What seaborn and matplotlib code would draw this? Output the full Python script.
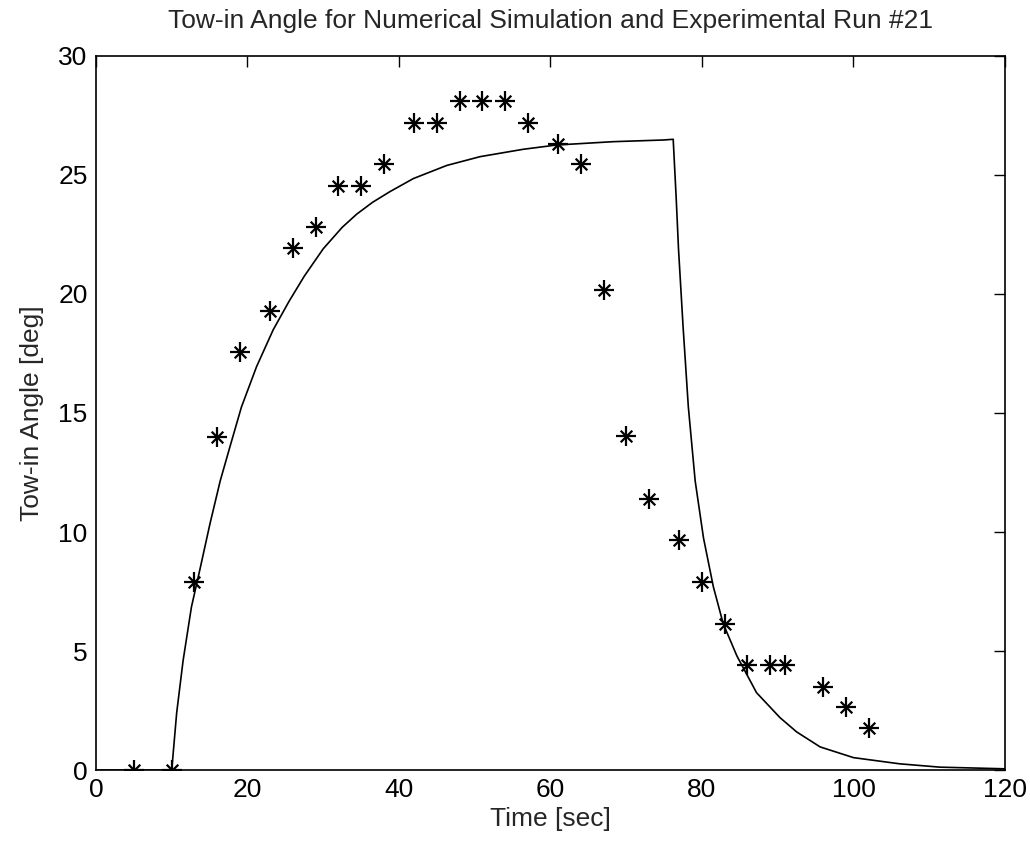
import numpy as np
import pandas as pd
import matplotlib
matplotlib.use("Agg")
import matplotlib.pyplot as plt
import seaborn as sns

# --- Experimental run #21 (asterisks) ---
exp_time = [5, 10, 13, 16, 19, 23, 26, 29, 32, 35, 38, 42, 45, 48, 51, 54, 57,
            61, 64, 67, 70, 73, 77, 80, 83, 86, 89, 91, 96, 99, 102]
exp_angle = [0.0, 0.0, 7.9, 14.0, 17.55, 19.3, 21.95, 22.8, 24.55, 24.55, 25.45,
             27.2, 27.2, 28.1, 28.1, 28.1, 27.2, 26.3, 25.45, 20.15, 14.05,
             11.4, 9.65, 7.9, 6.15, 4.4, 4.4, 4.4, 3.5, 2.65, 1.75]

# --- Numerical simulation (solid line) ---
sim_time = [0.0, 10.0, 10.65, 11.5, 12.6, 13.7, 15.05, 16.4, 17.7, 19.2, 21.2,
            23.4, 25.5, 27.5, 30.0, 32.5, 34.4, 36.5, 38.8, 41.9, 46.3, 50.7,
            56.4, 60.8, 68.3, 74.9, 76.2, 76.6, 76.9, 77.5, 78.2, 79.1, 80.2,
            81.5, 82.8, 84.6, 87.2, 90.3, 92.5, 95.6, 100.0, 106.1, 111.4,
            120.0]
sim_angle = [0.0, 0.0, 2.4, 4.6, 6.85, 8.4, 10.35, 12.15, 13.6, 15.25, 16.95,
             18.5, 19.7, 20.75, 21.9, 22.8, 23.35, 23.85, 24.3, 24.85, 25.4,
             25.77, 26.08, 26.26, 26.4, 26.47, 26.5, 24.0, 21.9, 18.65, 15.25,
             12.15, 9.75, 7.7, 6.15, 4.8, 3.25, 2.2, 1.6, 0.97, 0.52, 0.26,
             0.12, 0.05]

sim_df = pd.DataFrame({"time": sim_time, "angle": sim_angle})
exp_df = pd.DataFrame({"time": exp_time, "angle": exp_angle})

sns.set_style("white")
plt.rcParams["font.family"] = ["Liberation Sans", "DejaVu Sans"]

fig = plt.figure(figsize=(10.3, 8.47), dpi=100)
ax = fig.add_axes([0.0932, 0.0909, 0.8825, 0.843])

sns.lineplot(data=sim_df, x="time", y="angle", ax=ax, color="black",
             linewidth=1.2, sort=False, estimator=None)
# MATLAB-like '*' marker: a '+' with a smaller 'x' on top
sns.scatterplot(data=exp_df, x="time", y="angle", ax=ax, marker="+",
                s=190, color="black", linewidth=1.6, zorder=3)
sns.scatterplot(data=exp_df, x="time", y="angle", ax=ax, marker="x",
                s=70, color="black", linewidth=1.6, zorder=3)

ax.set_xlim(0, 120)
ax.set_ylim(0, 30)
ax.set_xticks(np.arange(0, 121, 20))
ax.set_yticks(np.arange(0, 31, 5))
ax.tick_params(direction="in", top=True, right=True, length=8, width=1,
               labelsize=19, pad=6, colors="black")
for sp in ax.spines.values():
    sp.set_visible(True)
    sp.set_color("black")
    sp.set_linewidth(1.2)

ax.set_title("Tow-in Angle for Numerical Simulation and Experimental Run #21",
             fontsize=19, pad=20)
ax.set_xlabel("Time [sec]", fontsize=19, labelpad=3)
ax.set_ylabel("Tow-in Angle [deg]", fontsize=19, labelpad=10)

fig.savefig("out.png", dpi=100)
